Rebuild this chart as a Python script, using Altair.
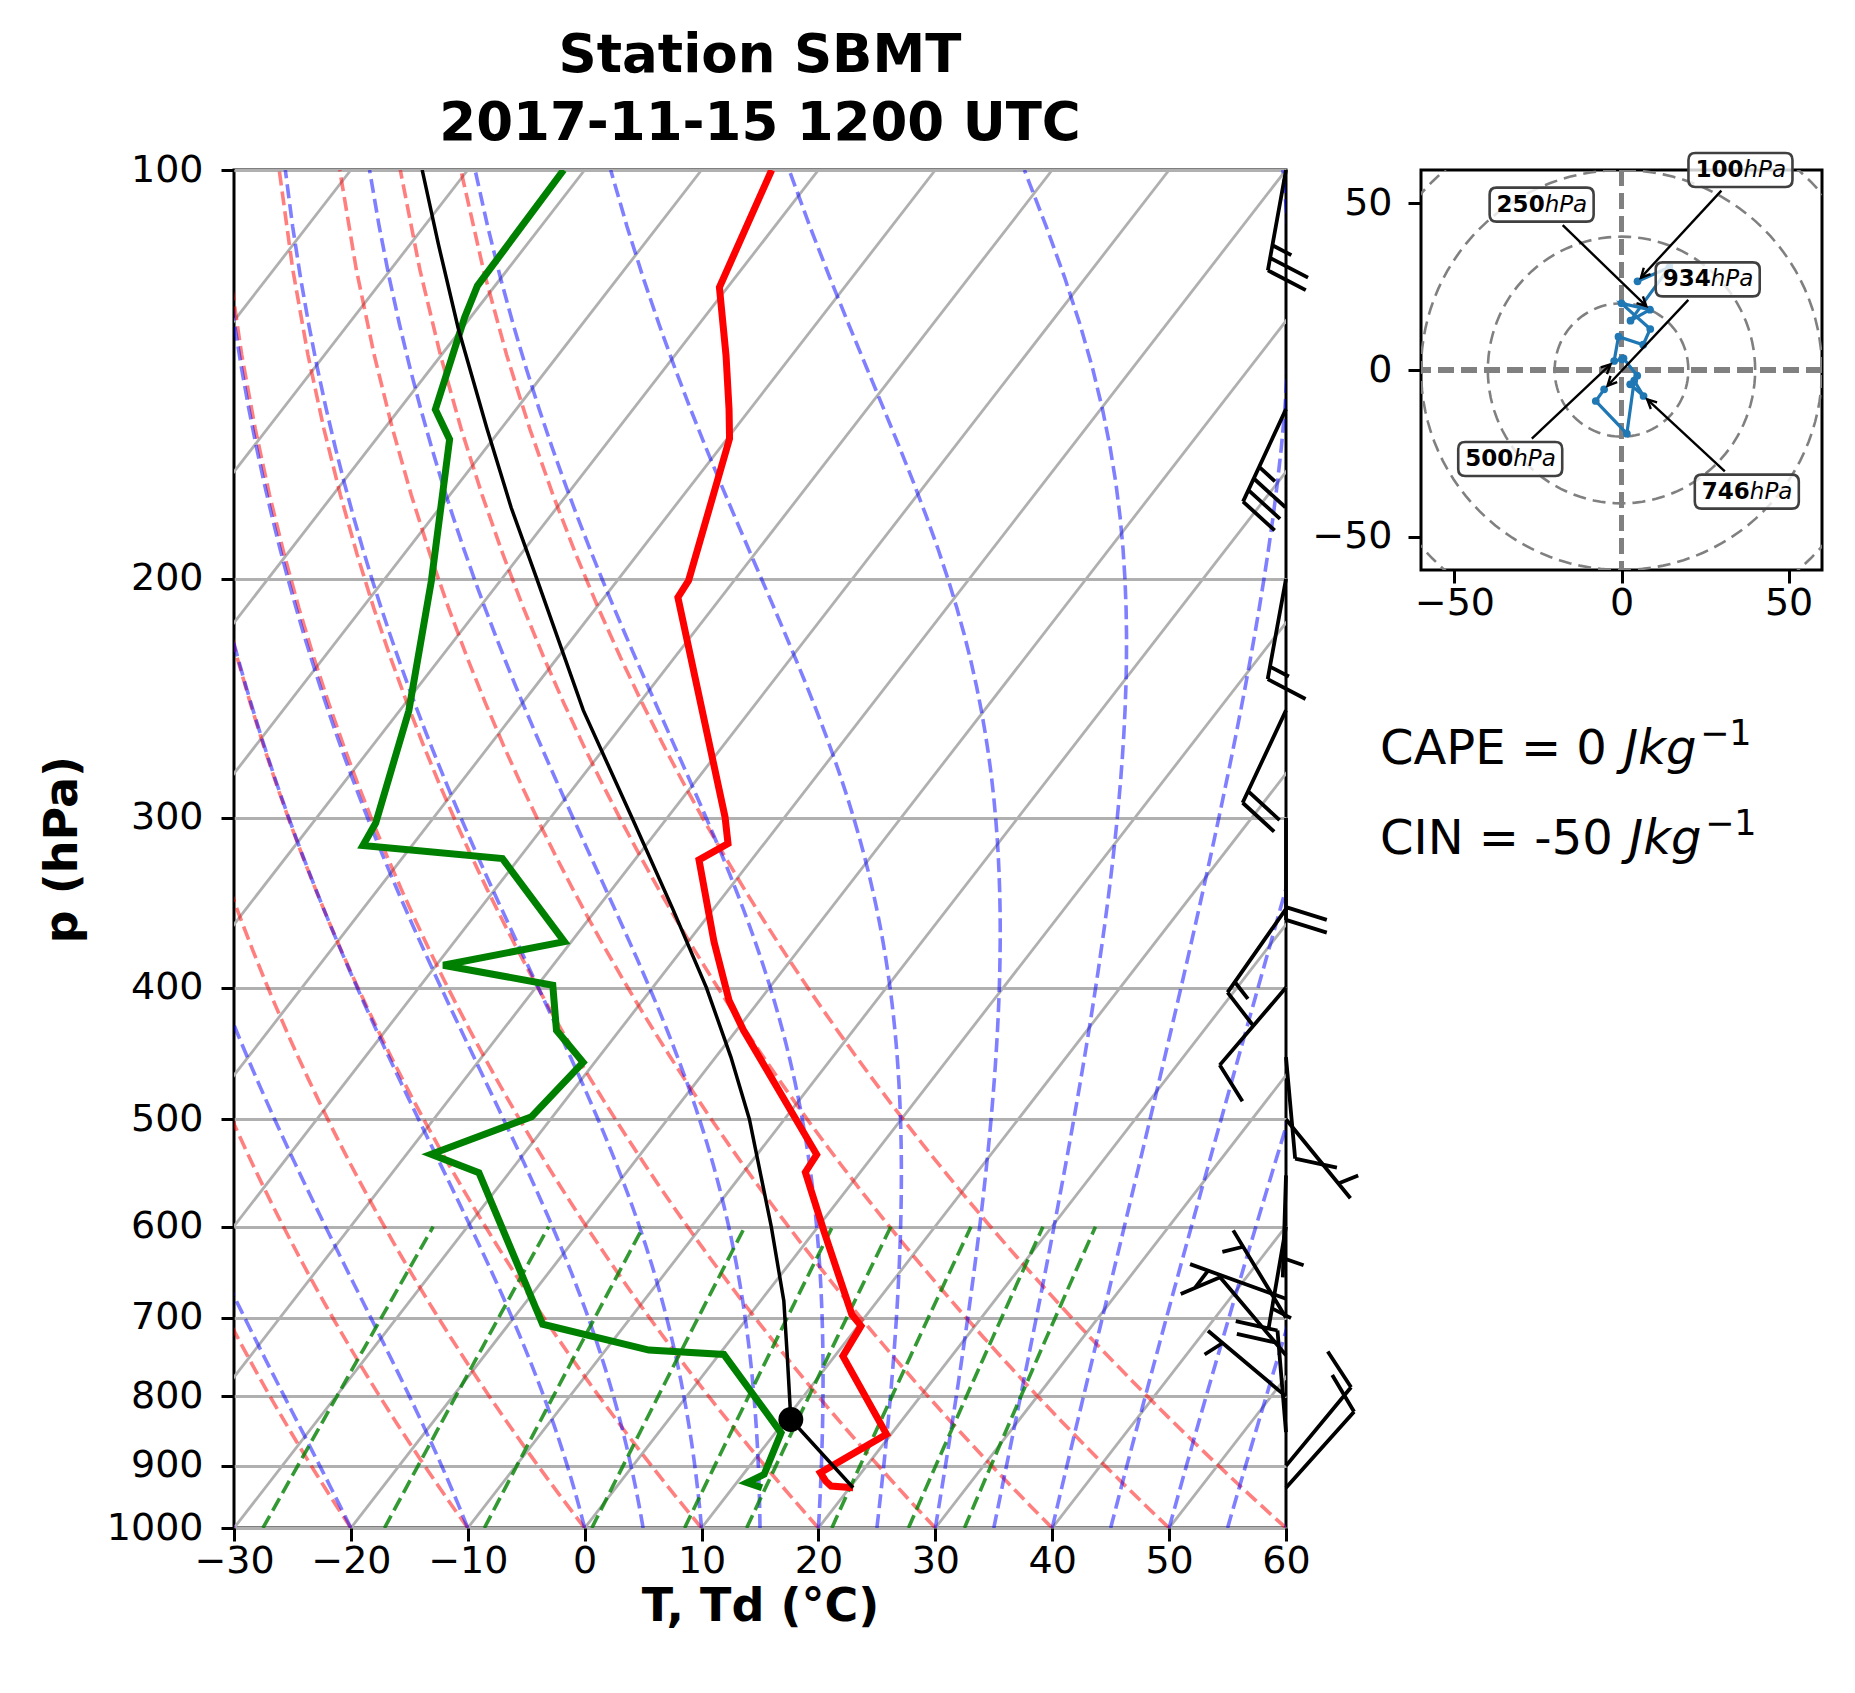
import math
import numpy as np
import pandas as pd
import altair as alt

# ------------------------------------------------------------------ data
title_lines = ["Station SBMT", "2017-11-15 1200 UTC"]

temp_p = [934.0, 931.3, 923.4, 910.6, 852.9, 747.2, 709.9, 696.2, 604.6, 547.0,
          530.9, 458.4, 430.0, 408.9, 370.0, 322.1, 313.3, 299.6, 206.4, 200.6,
          157.7, 150.0, 137.0, 122.0, 100.0]
temp_c = [20.3, 18.3, 17.5, 16.5, 19.6, 10.7, 10.25, 8.7, 0.8, -4.7,
          -4.9, -15.0, -19.4, -22.6, -27.8, -34.5, -33.1, -35.1, -53.7, -53.9,
          -59.8, -61.8, -65.6, -70.7, -74.0]

dewp_p = [934.0, 926.0, 913.0, 851.0, 745.0, 739.6, 707.9, 547.4, 530.6, 497.9,
          454.0, 430.0, 398.4, 385.1, 370.0, 321.4, 314.4, 302.6, 250.2, 200.6,
          157.9, 150.1, 128.4, 121.7, 100.0]
dewp_c = [12.5, 10.9, 11.8, 10.5, 0.4, -6.3, -17.1, -32.6, -37.9, -31.8,
          -31.0, -35.4, -38.7, -49.4, -40.6, -51.4, -64.2, -64.6, -69.2, -75.9,
          -83.7, -86.9, -90.5, -91.5, -91.8]

parcel_p = [934.0, 832.0, 750.0, 680.6, 600.0, 500.0, 450.0, 400.0, 350.0, 300.0,
            250.0, 200.0, 177.3, 154.8, 130.6, 113.4, 100.0]
parcel_c = [20.3, 10.45, 6.1, 2.0, -4.0, -13.0, -18.7, -25.4, -33.5, -43.0,
            -54.3, -67.0, -73.9, -81.3, -90.4, -97.6, -103.9]

lcl_p = [832.0]
lcl_c = [10.45]

wind_p = [934, 900, 850, 800, 746, 700, 678, 600, 550, 500,
          450, 400, 350, 300, 250, 200, 150, 100]
wind_u = [-5.2, -7.7, 1.6, 3.8, 6.6, 2.6, 4.7, 0.6, 0.1, -2.2,
          -0.9, 6.5, 8.6, 0.0, 8.5, 2.7, 14.3, 4.8]
wind_v = [-5.8, -9.3, -19.1, -3.2, -7.8, -4.3, -1.7, 3.5, 3.2, 2.7,
          10.0, 7.6, 12.3, 20.0, 18.1, 14.8, 30.8, 26.6]

hodo_label_p = [100, 250, 934, 500, 746]
hodo_label_u = [35.6, -23.9, 25.8, -33.3, 37.5]
hodo_label_v = [60.0, 49.6, 27.2, -26.7, -36.5]

cape_value = 0
cin_value = -50

x_ticks = [-30, -20, -10, 0, 10, 20, 30, 40, 50, 60]
p_ticks = [100, 200, 300, 400, 500, 600, 700, 800, 900, 1000]
hodo_ticks = [-50, 0, 50]
hodo_rings = [20, 40, 60, 80]

dry_t0 = list(range(-30, 61, 10))
moist_t0 = [-30, -20, -10, 0, 5, 10, 15, 20, 25, 30, 35, 40, 45, 50, 55, 60]
mix_ratios = [0.0004, 0.001, 0.002, 0.004, 0.007, 0.01, 0.016, 0.024, 0.032]
isotherm_t = list(range(-120, 61, 10))

# ------------------------------------------------------------------ background lines
FONT = "DejaVu Sans"
W, H = 1052, 1358
SKEW = "datum.T + 90 * log(1000 / datum.p) / LN10"

iso_rows = []
for t in isotherm_t:
    for i, pp in enumerate([1000.0, 100.0]):
        iso_rows.append({"id": t, "i": i, "p": pp, "T": t})
iso_df = pd.DataFrame(iso_rows)

plev = np.linspace(1000, 100, 50)
dry_rows = []
for t0 in dry_t0:
    tt = (t0 + 273.15) * (plev / 1000.0) ** 0.28571 - 273.15
    for i, (pp, tv) in enumerate(zip(plev, tt)):
        dry_rows.append({"id": t0, "i": i, "p": float(pp), "T": float(tv)})
dry_df = pd.DataFrame(dry_rows)

Rd, Lv, Cp, EPS = 287.04749, 2.50084e6, 1004.666, 0.6219569


def _rs(p, tk):
    e = 6.112 * np.exp(17.67 * (tk - 273.15) / (tk - 29.65))
    return EPS * e / (p - e)


def _dtdp(p, tk):
    r = _rs(p, tk)
    return (Rd * tk + Lv * r) / (Cp + Lv * Lv * r * EPS / (Rd * tk * tk)) / p


mp = np.linspace(1000, 100, 181)
tk = np.array(moist_t0, dtype=float) + 273.15
moist_vals = [tk.copy()]
for k in range(len(mp) - 1):
    p0, h = mp[k], mp[k + 1] - mp[k]
    k1 = _dtdp(p0, tk)
    k2 = _dtdp(p0 + h / 2, tk + h / 2 * k1)
    k3 = _dtdp(p0 + h / 2, tk + h / 2 * k2)
    k4 = _dtdp(p0 + h, tk + h * k3)
    tk = tk + h / 6 * (k1 + 2 * k2 + 2 * k3 + k4)
    moist_vals.append(tk.copy())
moist_vals = np.array(moist_vals)
moist_rows = []
for j, t0 in enumerate(moist_t0):
    for i in range(0, len(mp), 2):
        moist_rows.append({"id": t0, "i": i, "p": float(mp[i]),
                           "T": float(moist_vals[i, j] - 273.15)})
moist_df = pd.DataFrame(moist_rows)

mixp = np.linspace(1000, 600, 30)
mix_rows = []
for w in mix_ratios:
    e = mixp * w / (EPS + w)
    le = np.log(e / 6.112)
    td = 243.5 * le / (17.67 - le)
    for i, (pp, tv) in enumerate(zip(mixp, td)):
        mix_rows.append({"id": w, "i": i, "p": float(pp), "T": float(tv)})
mix_df = pd.DataFrame(mix_rows)

temp_df = pd.DataFrame({"p": temp_p, "T": temp_c, "i": range(len(temp_p))})
dewp_df = pd.DataFrame({"p": dewp_p, "T": dewp_c, "i": range(len(dewp_p))})
parcel_df = pd.DataFrame({"p": parcel_p, "T": parcel_c, "i": range(len(parcel_p))})
lcl_df = pd.DataFrame({"p": lcl_p, "T": lcl_c})


# ------------------------------------------------------------------ wind barbs
def barb_path(spd):
    n50 = int(spd // 50)
    rem = spd - 50 * n50
    n10 = int(rem // 10)
    half = (rem - 10 * n10) >= 5
    parts = ["M0 0L0 -1"]
    o = 1.0
    for _ in range(n50):
        parts.append(f"M0 {-o:.4f}L-0.4 {-(o - 0.0625):.4f}L0 {-(o - 0.125):.4f}Z")
        o -= 0.25
    for _ in range(n10):
        parts.append(f"M0 {-o:.4f}L-0.4 {-(o + 0.125):.4f}")
        o -= 0.125
    if half:
        if o == 1.0:
            o -= 1.5 * 0.125
        parts.append(f"M0 {-o:.4f}L-0.2 {-(o + 0.0625):.4f}")
    return "".join(parts)


barb_rows = []
for pp, uu, vv in zip(wind_p, wind_u, wind_v):
    spd = 5 * round(math.hypot(uu, vv) / 5)
    ang = (math.degrees(math.atan2(-uu, -vv)) + 360) % 360
    barb_rows.append({"p": pp, "ang": ang, "path": barb_path(spd)})
barb_df = pd.DataFrame(barb_rows)

# ------------------------------------------------------------------ main skew-T
xsc = alt.Scale(domain=[-30, 60], nice=False, zero=False)
ysc = alt.Scale(type="log", domain=[100, 1000], reverse=True, nice=False)
xax = alt.Axis(values=x_ticks, title="T, Td (°C)", grid=False, format="d",
               labelExpr="replace(datum.label, '-', '−')", titleFontWeight="bold",
               titleFontSize=46, titlePadding=4, labelPadding=1,
               labelOverlap=False, labelFlush=False)
yax = alt.Axis(values=p_ticks, title="p (hPa)", grid=True, gridColor="#b0b0b0",
               gridWidth=3, format="d", titleFontWeight="bold", titleFontSize=46,
               titlePadding=20, labelPadding=18, labelOverlap=False, labelFlush=False)


def enc(base):
    return base.transform_calculate(xs=SKEW).encode(
        x=alt.X("xs:Q", scale=xsc, axis=xax),
        y=alt.Y("p:Q", scale=ysc, axis=yax),
        order="i:Q",
    )


iso = enc(alt.Chart(iso_df).mark_line(color="#b0b0b0", strokeWidth=2.8, clip=True)).encode(detail="id:N")
dry = enc(alt.Chart(dry_df).mark_line(color="#ff0000", opacity=0.5, strokeWidth=3.6,
                                       strokeDash=[14, 6], clip=True)).encode(detail="id:N")
moist = enc(alt.Chart(moist_df).mark_line(color="#0000ff", opacity=0.5, strokeWidth=3.6,
                                           strokeDash=[14, 6], clip=True)).encode(detail="id:N")
mix = enc(alt.Chart(mix_df).mark_line(color="#008000", opacity=0.8, strokeWidth=3.6,
                                       strokeDash=[14, 6], clip=True)).encode(detail="id:N")
tline = enc(alt.Chart(temp_df).mark_line(color="#ff0000", strokeWidth=7, clip=True))
dline = enc(alt.Chart(dewp_df).mark_line(color="#008000", strokeWidth=7, clip=True))
pline = enc(alt.Chart(parcel_df).mark_line(color="black", strokeWidth=3.5, clip=True))
lcl = alt.Chart(lcl_df).transform_calculate(xs=SKEW).mark_circle(
    color="black", size=620, opacity=1).encode(
    x=alt.X("xs:Q", scale=xsc, axis=xax), y=alt.Y("p:Q", scale=ysc, axis=yax))
barbs = alt.Chart(barb_df).mark_point(filled=False, color="black", strokeWidth=3.8,
                                      opacity=1, size=41616, clip=False).encode(
    x=alt.X(datum=60, scale=xsc, axis=xax),
    y=alt.Y("p:Q", scale=ysc, axis=yax),
    shape=alt.Shape("path:N", scale=None),
    angle=alt.Angle("ang:Q", scale=None),
)

main = alt.layer(iso, dry, moist, mix, tline, dline, pline, lcl, barbs).properties(
    width=W, height=H,
    title=alt.TitleParams(text=title_lines, fontSize=53, font=FONT, fontWeight="bold",
                          anchor="middle", offset=0, lineHeight=68, color="black"),
)

# ------------------------------------------------------------------ hodograph
PX = 401 / 120.0
hodo_df = pd.DataFrame({"p": wind_p, "u": wind_u, "v": wind_v, "i": range(len(wind_p))})

ring_rows = []
for r in hodo_rings:
    for k in range(0, 361, 3):
        a = math.radians(k)
        ring_rows.append({"r": r, "i": k, "u": r * math.cos(a), "v": r * math.sin(a)})
ring_df = pd.DataFrame(ring_rows)

wind_lookup = {pp: (uu, vv) for pp, uu, vv in zip(wind_p, wind_u, wind_v)}
ann_rows = []
bw, bh = 52 / PX, 17 / PX
for lp, lu, lv in zip(hodo_label_p, hodo_label_u, hodo_label_v):
    tu, tv = wind_lookup[lp]
    du, dv = tu - lu, tv - lv
    t_edge = min(bw / abs(du) if du else 1e9, bh / abs(dv) if dv else 1e9)
    dist = math.hypot(du, dv)
    sh = 5.0 / PX / dist
    su, sv = lu + du * (t_edge + sh), lv + dv * (t_edge + sh)
    eu, ev = tu - du * sh, tv - dv * sh
    ang = (math.degrees(math.atan2(du, dv)) + 360) % 360
    ann_rows.append({"lp": lp, "lu": lu, "lv": lv, "su": su, "sv": sv, "eu": eu,
                     "ev": ev, "ang": ang, "num": str(lp), "unit": "hPa"})
ann_df = pd.DataFrame(ann_rows)

hxs = alt.Scale(domain=[-60, 60], nice=False, zero=False)
hys = alt.Scale(domain=[-60, 60], nice=False, zero=False)
hxax = alt.Axis(values=hodo_ticks, title=None, grid=False, labelExpr="replace(datum.label, '-', '−')",
                labelPadding=1, labelOverlap=False, labelFlush=False)
hyax = alt.Axis(values=hodo_ticks, title=None, grid=False, labelExpr="replace(datum.label, '-', '−')",
                labelPadding=16, labelOverlap=False, labelFlush=False)

rings = alt.Chart(ring_df).mark_line(color="gray", strokeWidth=2.6, strokeDash=[13, 7], clip=True).encode(
    x=alt.X("u:Q", scale=hxs, axis=hxax), y=alt.Y("v:Q", scale=hys, axis=hyax),
    detail="r:N", order="i:Q")
cross_v = alt.Chart(ring_df).mark_rule(color="gray", strokeWidth=4.5, strokeDash=[16, 7]).encode(
    x=alt.X(datum=0, scale=hxs, axis=hxax))
cross_h = alt.Chart(ring_df).mark_rule(color="gray", strokeWidth=4.5, strokeDash=[16, 7]).encode(
    y=alt.Y(datum=0, scale=hys, axis=hyax))
hline = alt.Chart(hodo_df).mark_line(color="#1f77b4", strokeWidth=3.2,
                                     point=alt.OverlayMarkDef(color="#1f77b4", size=60, filled=True, opacity=1)).encode(
    x=alt.X("u:Q", scale=hxs, axis=hxax), y=alt.Y("v:Q", scale=hys, axis=hyax), order="i:Q")
arrows = alt.Chart(ann_df).mark_rule(color="black", strokeWidth=2.4).encode(
    x=alt.X("su:Q", scale=hxs, axis=hxax), y=alt.Y("sv:Q", scale=hys, axis=hyax),
    x2="eu:Q", y2="ev:Q")
HEAD = "M-0.383 0.767L0 0L0.383 0.767"
heads = alt.Chart(ann_df).mark_point(shape=HEAD, filled=False, color="black", strokeWidth=2.4,
                                     size=576, opacity=1).encode(
    x=alt.X("eu:Q", scale=hxs, axis=hxax), y=alt.Y("ev:Q", scale=hys, axis=hyax),
    angle=alt.Angle("ang:Q", scale=None))
BOX = ("M-0.867 -0.327L0.867 -0.327Q1 -0.327 1 -0.194L1 0.194Q1 0.327 0.867 0.327"
       "L-0.867 0.327Q-1 0.327 -1 0.194L-1 -0.194Q-1 -0.327 -0.867 -0.327Z")
boxes = alt.Chart(ann_df).mark_point(shape=BOX, filled=True, fill="white", fillOpacity=0.8,
                                     stroke="#404040", strokeWidth=2.6, strokeOpacity=1,
                                     size=10816, opacity=1).encode(
    x=alt.X("lu:Q", scale=hxs, axis=hxax), y=alt.Y("lv:Q", scale=hys, axis=hyax))
num_txt = alt.Chart(ann_df).mark_text(font=FONT, fontSize=23, fontWeight="bold", align="right",
                                      baseline="middle", dx=3, color="black").encode(
    x=alt.X("lu:Q", scale=hxs, axis=hxax), y=alt.Y("lv:Q", scale=hys, axis=hyax), text="num:N")
unit_txt = alt.Chart(ann_df).mark_text(font=FONT, fontSize=23, fontStyle="italic", align="left",
                                       baseline="middle", dx=3, color="black").encode(
    x=alt.X("lu:Q", scale=hxs, axis=hxax), y=alt.Y("lv:Q", scale=hys, axis=hyax), text="unit:N")

hodo = alt.layer(rings, cross_v, cross_h, hline, arrows, heads, boxes, num_txt, unit_txt).properties(
    width=401, height=400)

# ------------------------------------------------------------------ CAPE / CIN text
txt_df = pd.DataFrame({"row": ["CAPE", "CIN"],
                       "main": [f"CAPE = {cape_value} ", f"CIN = {cin_value} "],
                       "unit": ["Jkg", "Jkg"], "sup": ["−1", "−1"]})
ty = alt.Y("row:N", axis=None, scale=alt.Scale(domain=["CAPE", "CIN"]))


def tpiece(row, field, xpos, **kw):
    return alt.Chart(txt_df).transform_filter(alt.datum.row == row).mark_text(
        font=FONT, align="left", baseline="alphabetic", color="black", x=xpos, **kw).encode(
        y=ty, text=f"{field}:N")


txt = alt.layer(
    tpiece("CAPE", "main", -41, fontSize=48),
    tpiece("CAPE", "unit", 203, fontSize=48, fontStyle="italic"),
    tpiece("CAPE", "sup", 279, fontSize=35, dy=-19),
    tpiece("CIN", "main", -41, fontSize=48),
    tpiece("CIN", "unit", 208, fontSize=48, fontStyle="italic"),
    tpiece("CIN", "sup", 284, fontSize=35, dy=-19),
).properties(width=401, height=180, view=alt.ViewBackground(strokeOpacity=0))

right = alt.vconcat(hodo, txt, spacing=149, bounds="flush")
chart = alt.hconcat(main, right, spacing=135, bounds="flush").properties(
    padding={"left": 37, "top": 28, "right": 10, "bottom": 10}
).configure_view(stroke="black", strokeWidth=3).configure_axis(
    labelFont=FONT, titleFont=FONT, labelFontSize=38, labelColor="black", titleColor="black",
    domain=False, tickColor="black", tickWidth=3, tickSize=13,
).configure_text(font=FONT)

chart.save("out.html", embed_options={"renderer": "svg", "actions": False})
